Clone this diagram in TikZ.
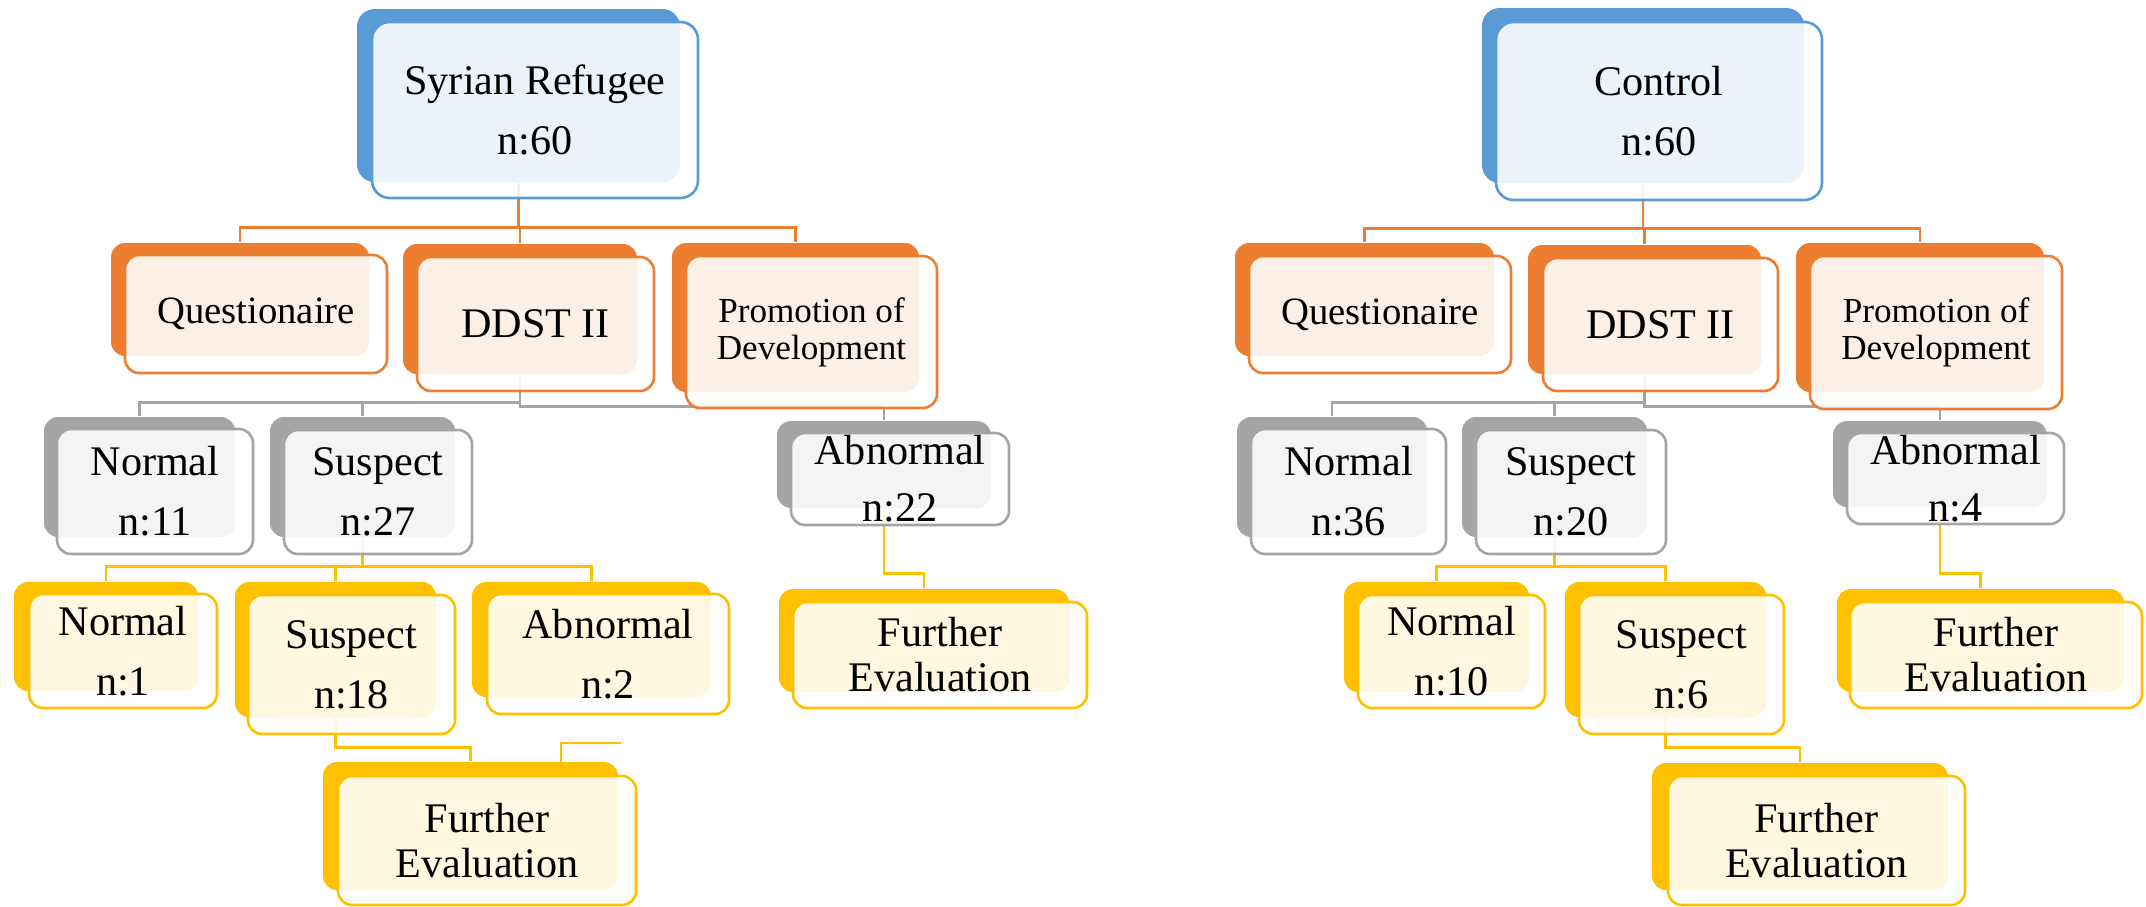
\documentclass[tikz,border=0pt]{standalone}
\usepackage{fontspec}
\setmainfont{Liberation Serif}
\usepackage{tikz}
\definecolor{boxblue}{HTML}{5B9BD5}
\definecolor{boxorange}{HTML}{ED7D31}
\definecolor{boxgray}{HTML}{A5A5A5}
\definecolor{boxyellow}{HTML}{FFC000}
\tikzset{
    bk/.style={fill=#1, rounded corners=4pt, inner sep=0pt},
    fr/.style={draw=#1, line width=0.75pt, fill=white, fill opacity=0.88,
        text opacity=1, rounded corners=4pt, align=center, inner sep=0pt,
        font=\fontsize{12}{17}\selectfont},
    conn/.style={draw=#1, line width=0.7pt}
}
\begin{document}
\begin{tikzpicture}
\useasboundingbox (0,0) rectangle (21.46,-9.06);

\node[bk=boxblue, minimum width=3.23cm, minimum height=1.73cm, rounded corners=5pt] (sr) at (5.185,-0.955) {};
\node[bk=boxorange, minimum width=2.58cm, minimum height=1.13cm] (q1) at (2.40,-2.995) {};
\node[bk=boxorange, minimum width=2.34cm, minimum height=1.30cm] (d1) at (5.20,-3.09) {};
\node[bk=boxorange, minimum width=2.47cm, minimum height=1.49cm] (p1) at (7.955,-3.175) {};
\node[bk=boxgray, minimum width=1.91cm, minimum height=1.20cm] (n1) at (1.395,-4.77) {};
\node[bk=boxgray, minimum width=1.85cm, minimum height=1.20cm] (s1) at (3.625,-4.77) {};
\node[bk=boxgray, minimum width=2.14cm, minimum height=0.87cm] (a1) at (8.84,-4.645) {};
\node[bk=boxyellow, minimum width=1.84cm, minimum height=1.09cm] (yn1) at (1.06,-6.365) {};
\node[bk=boxyellow, minimum width=2.01cm, minimum height=1.35cm] (ys1) at (3.355,-6.495) {};
\node[bk=boxyellow, minimum width=2.39cm, minimum height=1.15cm] (ya1) at (5.915,-6.395) {};
\node[bk=boxyellow, minimum width=2.95cm, minimum height=1.28cm] (fe1) at (4.705,-8.26) {};
\node[bk=boxyellow, minimum width=2.90cm, minimum height=1.03cm] (fe2) at (9.24,-6.405) {};

\node[bk=boxblue, minimum width=3.22cm, minimum height=1.75cm, rounded corners=5pt] (ct) at (16.43,-0.955) {};
\node[bk=boxorange, minimum width=2.59cm, minimum height=1.13cm] (q2) at (13.645,-2.995) {};
\node[bk=boxorange, minimum width=2.33cm, minimum height=1.29cm] (d2) at (16.445,-3.095) {};
\node[bk=boxorange, minimum width=2.48cm, minimum height=1.49cm] (p2) at (19.20,-3.175) {};
\node[bk=boxgray, minimum width=1.90cm, minimum height=1.20cm] (n2) at (13.32,-4.77) {};
\node[bk=boxgray, minimum width=1.85cm, minimum height=1.20cm] (s2) at (15.545,-4.77) {};
\node[bk=boxgray, minimum width=2.14cm, minimum height=0.86cm] (a2) at (19.40,-4.64) {};
\node[bk=boxyellow, minimum width=1.85cm, minimum height=1.10cm] (yn2) at (14.365,-6.37) {};
\node[bk=boxyellow, minimum width=2.01cm, minimum height=1.35cm] (ys2) at (16.655,-6.495) {};
\node[bk=boxyellow, minimum width=2.96cm, minimum height=1.27cm] (fe3) at (18.00,-8.265) {};
\node[bk=boxyellow, minimum width=2.87cm, minimum height=1.03cm] (fe4) at (19.805,-6.405) {};

\draw[conn=boxorange] (sr.south) -- ++(0,-0.45) -| (q1.north);
\draw[conn=boxorange] (sr.south) -- ++(0,-0.45) -| (d1.north);
\draw[conn=boxorange] (sr.south) -- ++(0,-0.45) -| (p1.north);
\draw[conn=boxgray] (d1.south) -- ++(0,-0.28) -| (n1.north);
\draw[conn=boxgray] (d1.south) -- ++(0,-0.28) -| (s1.north);
\draw[conn=boxgray] (d1.south) -- ++(0,-0.32) -| (a1.north);
\draw[conn=boxyellow] (s1.south) -- ++(0,-0.29) -| (yn1.north);
\draw[conn=boxyellow] (s1.south) -- ++(0,-0.29) -| (ys1.north);
\draw[conn=boxyellow] (s1.south) -- ++(0,-0.29) -| (ya1.north);
\draw[conn=boxyellow] (ys1.south) -- ++(0,-0.30) -| (fe1.north);
\draw[conn=boxyellow] (a1.south) -- ++(0,-0.65) -| (fe2.north);
\coordinate (stray-a) at (6.21,-7.43);
\coordinate (stray-b) at (5.61,-7.62);
\draw[conn=boxyellow] (stray-a) -| (stray-b);

\draw[conn=boxorange] (ct.south) -- ++(0,-0.45) -| (q2.north);
\draw[conn=boxorange] (ct.south) -- ++(0,-0.45) -| (d2.north);
\draw[conn=boxorange] (ct.south) -- ++(0,-0.45) -| (p2.north);
\draw[conn=boxgray] (d2.south) -- ++(0,-0.28) -| (n2.north);
\draw[conn=boxgray] (d2.south) -- ++(0,-0.28) -| (s2.north);
\draw[conn=boxgray] (d2.south) -- ++(0,-0.32) -| (a2.north);
\draw[conn=boxyellow] (s2.south) -- ++(0,-0.29) -| (yn2.north);
\draw[conn=boxyellow] (s2.south) -- ++(0,-0.29) -| (ys2.north);
\draw[conn=boxyellow] (ys2.south) -- ++(0,-0.30) -| (fe3.north);
\draw[conn=boxyellow] (a2.south) -- ++(0,-0.66) -| (fe4.north);

\node[fr=boxblue, minimum width=3.26cm, minimum height=1.76cm, rounded corners=5pt] (sr-t) at (5.35,-1.10) {Syrian Refugee\\n:60};
\node[fr=boxorange, minimum width=2.62cm, minimum height=1.18cm, font=\fontsize{11}{13}\selectfont] (q1-t) at (2.56,-3.14) {Questionaire};
\node[fr=boxorange, minimum width=2.37cm, minimum height=1.34cm] (d1-t) at (5.355,-3.24) {DDST II};
\node[fr=boxorange, minimum width=2.51cm, minimum height=1.52cm, font=\fontsize{10}{10.5}\selectfont] (p1-t) at (8.115,-3.32) {Promotion of\\Development};
\node[fr=boxgray, minimum width=1.96cm, minimum height=1.25cm] (n1-t) at (1.55,-4.915) {Normal\\n:11};
\node[fr=boxgray, minimum width=1.88cm, minimum height=1.24cm] (s1-t) at (3.78,-4.92) {Suspect\\n:27};
\node[fr=boxgray, minimum width=2.18cm, minimum height=0.92cm, font=\fontsize{12}{16.2}\selectfont] (a1-t) at (9.00,-4.79) {Abnormal\\n:22};
\node[fr=boxyellow, minimum width=1.88cm, minimum height=1.14cm] (yn1-t) at (1.23,-6.51) {Normal\\n:1};
\node[fr=boxyellow, minimum width=2.07cm, minimum height=1.39cm] (ys1-t) at (3.515,-6.645) {Suspect\\n:18};
\node[fr=boxyellow, minimum width=2.42cm, minimum height=1.20cm] (ya1-t) at (6.08,-6.54) {Abnormal\\n:2};
\node[fr=boxyellow, minimum width=2.98cm, minimum height=1.29cm, font=\fontsize{12}{12.8}\selectfont] (fe1-t) at (4.87,-8.405) {Further\\Evaluation};
\node[fr=boxyellow, minimum width=2.94cm, minimum height=1.06cm, font=\fontsize{12}{12.8}\selectfont] (fe2-t) at (9.40,-6.55) {Further\\Evaluation};

\node[fr=boxblue, minimum width=3.26cm, minimum height=1.78cm, rounded corners=5pt] (ct-t) at (16.59,-1.11) {Control\\n:60};
\node[fr=boxorange, minimum width=2.62cm, minimum height=1.17cm, font=\fontsize{11}{13}\selectfont] (q2-t) at (13.80,-3.145) {Questionaire};
\node[fr=boxorange, minimum width=2.35cm, minimum height=1.33cm] (d2-t) at (16.605,-3.245) {DDST II};
\node[fr=boxorange, minimum width=2.52cm, minimum height=1.53cm, font=\fontsize{10}{10.5}\selectfont] (p2-t) at (19.36,-3.325) {Promotion of\\Development};
\node[fr=boxgray, minimum width=1.95cm, minimum height=1.25cm] (n2-t) at (13.485,-4.915) {Normal\\n:36};
\node[fr=boxgray, minimum width=1.90cm, minimum height=1.24cm] (s2-t) at (15.71,-4.92) {Suspect\\n:20};
\node[fr=boxgray, minimum width=2.17cm, minimum height=0.91cm, font=\fontsize{12}{16.2}\selectfont] (a2-t) at (19.555,-4.785) {Abnormal\\n:4};
\node[fr=boxyellow, minimum width=1.87cm, minimum height=1.13cm] (yn2-t) at (14.515,-6.515) {Normal\\n:10};
\node[fr=boxyellow, minimum width=2.05cm, minimum height=1.39cm] (ys2-t) at (16.815,-6.645) {Suspect\\n:6};
\node[fr=boxyellow, minimum width=2.97cm, minimum height=1.29cm, font=\fontsize{12}{12.8}\selectfont] (fe3-t) at (18.165,-8.405) {Further\\Evaluation};
\node[fr=boxyellow, minimum width=2.92cm, minimum height=1.06cm, font=\fontsize{12}{12.8}\selectfont] (fe4-t) at (19.96,-6.55) {Further\\Evaluation};
\end{tikzpicture}
\end{document}
